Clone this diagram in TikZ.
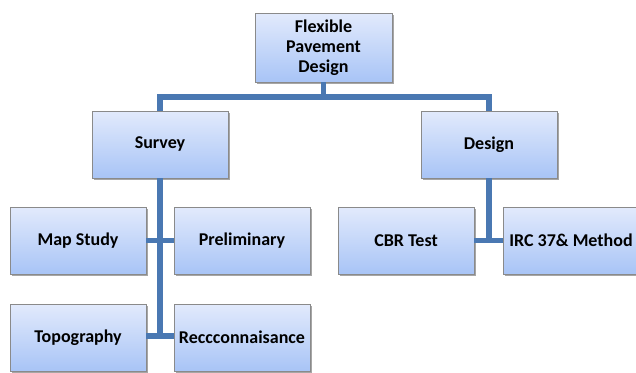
\documentclass[tikz,border=0pt]{standalone}
\usepackage{fontspec}
\setmainfont{Carlito}
\usetikzlibrary{shadows}
\definecolor{linkblue}{HTML}{4A78B2}
\definecolor{boxtop}{HTML}{E2EAFC}
\definecolor{boxbot}{HTML}{A8C4F6}
\definecolor{boxedge}{HTML}{8A8A8A}
\tikzset{
  box/.style={draw=boxedge, line width=0.9pt, top color=boxtop, bottom color=boxbot,
    minimum width=136pt, minimum height=67pt, inner sep=0pt, align=center,
    font=\fontsize{18}{20}\selectfont\bfseries,
    drop shadow={shadow xshift=1.5pt, shadow yshift=-2pt, opacity=0.35, fill=black}},
  link/.style={draw=linkblue, line width=5.5pt, line join=miter}
}
\begin{document}
\begin{tikzpicture}[x=1pt,y=-1pt]
\useasboundingbox (0,0) rectangle (636,372);
\clip (0,0) rectangle (636,372);
% nodes
\node[box, minimum width=137pt, minimum height=69pt] (top) at (323.5,47.5) {Flexible\\Pavement\\Design};
\node[box] (survey) at (160,144.5) {Survey};
\node[box] (design) at (489,144.5) {Design};
\node[box] (map) at (78,240.5) {Map Study};
\node[box] (prelim) at (242,240.5) {Preliminary};
\node[box] (topo) at (78,337.5) {Topography};
\node[box] (recon) at (242,337.5) {Reccconnaisance};
\node[box] (cbr) at (406,240.5) {CBR Test};
\node[box] (irc) at (571,240.5) {IRC 37\& Method};
% coordinates
\coordinate (hub) at (323.5,97);
\coordinate (sj) at (160,97);
\coordinate (dj) at (489,97);
\coordinate (s2) at (160,336);
\coordinate (d1) at (489,240.5);
% connectors
\draw[link] (top.south) -- (hub);
\draw[link] (survey.north) -- (sj) -- (dj) -- (design.north);
\draw[link] (survey.south) -- (s2);
\draw[link] (map.east) -- (prelim.west);
\draw[link] (topo.east |- s2) -- (recon.west |- s2);
\draw[link] (design.south) -- (d1);
\draw[link] (cbr.east) -- (irc.west);
\end{tikzpicture}
\end{document}
